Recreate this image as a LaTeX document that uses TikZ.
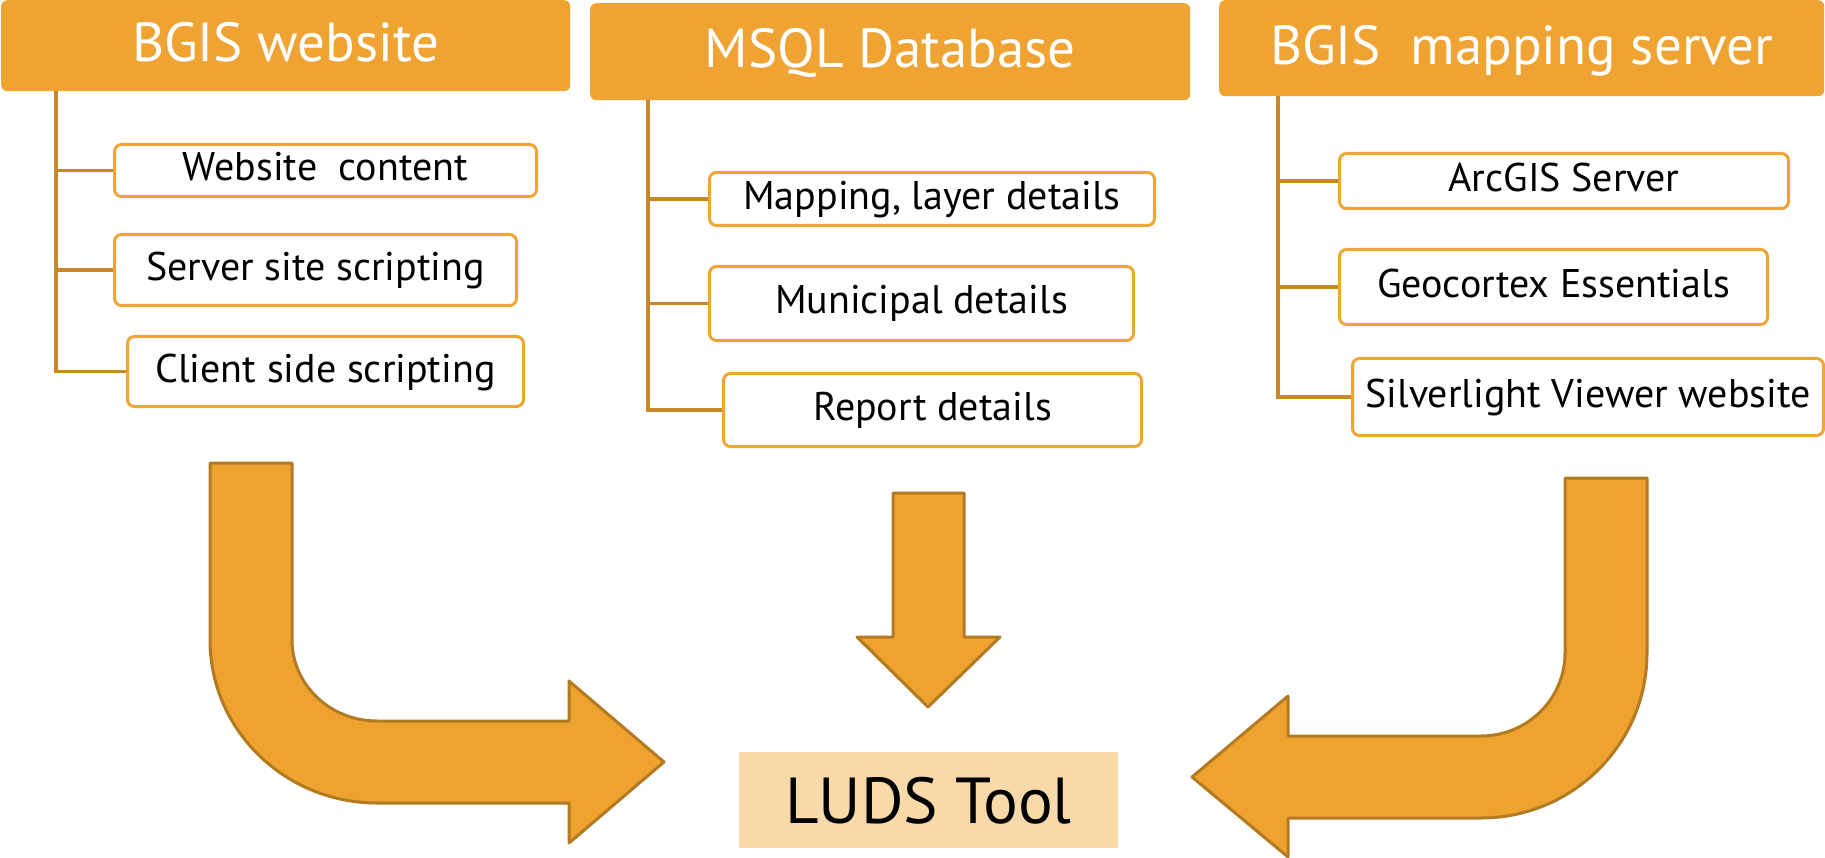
\documentclass[tikz,border=0pt]{standalone}
\usepackage{fontspec}
\setmainfont{PT Sans}
\definecolor{hdr}{HTML}{EFA332}
\definecolor{itemline}{HTML}{EFA534}
\definecolor{conn}{HTML}{C78628}
\definecolor{arrowfill}{HTML}{EEA22F}
\definecolor{arrowline}{HTML}{B47A22}
\definecolor{ludsfill}{HTML}{F8DAAA}
\tikzset{
  hdrbox/.style={fill=hdr, rounded corners=6pt, inner sep=0pt, anchor=north west,
    text=white, font=\fontsize{55}{60}\selectfont, text height=38pt, text depth=6pt},
  itembox/.style={draw=itemline, line width=3pt, rounded corners=7pt, fill=white,
    inner sep=0pt, anchor=north west, text=black,
    font=\fontsize{40}{46}\selectfont, text height=28pt, text depth=7pt},
  conn/.style={draw=conn, line width=3.5pt},
  bigarrow/.style={fill=arrowfill, draw=arrowline, line width=3pt, line join=round},
  ludsbox/.style={fill=ludsfill, inner sep=0pt, font=\fontsize{65}{70}\selectfont,
    text height=47pt, text depth=1pt}
}
\begin{document}
\begin{tikzpicture}[x=1pt, y=-1pt]
\useasboundingbox (0,0) rectangle (1825,858);

% headers
\node[hdrbox, minimum width=569pt, minimum height=91pt] (h1) at (1,0) {BGIS website};
\node[hdrbox, minimum width=600pt, minimum height=97pt] (h2) at (590,3) {MSQL Database};
\node[hdrbox, minimum width=605pt, minimum height=96pt] (h3) at (1219,0) {BGIS\ \ mapping server};

% column 1 items
\node[itembox, minimum width=422pt, minimum height=52pt] (a1) at (113,143) {Website\ \ content};
\node[itembox, minimum width=402pt, minimum height=71pt] (a2) at (113,233) {Server site scripting};
\node[itembox, minimum width=396pt, minimum height=70pt] (a3) at (126,335) {Client side scripting};

% column 2 items
\node[itembox, minimum width=445pt, minimum height=53pt] (b1) at (708,171) {Mapping, layer details};
\node[itembox, minimum width=424pt, minimum height=74pt] (b2) at (708,265) {Municipal details};
\node[itembox, minimum width=418pt, minimum height=73pt] (b3) at (722,372) {Report details};

% column 3 items
\node[itembox, minimum width=449pt, minimum height=55pt] (c1) at (1338,152) {ArcGIS Server};
\node[itembox, minimum width=428pt, minimum height=75pt] (c2) at (1338,248) {Geocortex Essentials};
\node[itembox, minimum width=471pt, minimum height=77pt] (c3) at (1351,357) {Silverlight Viewer website};

% tree connectors
\coordinate (t1) at (56,91);
\coordinate (t2) at (648,100);
\coordinate (t3) at (1278,96);
\draw[conn] (t1) |- (a3.west);
\draw[conn] (t1 |- a1.west) -- (a1.west);
\draw[conn] (t1 |- a2.west) -- (a2.west);
\draw[conn] (t2) |- (b3.west);
\draw[conn] (t2 |- b1.west) -- (b1.west);
\draw[conn] (t2 |- b2.west) -- (b2.west);
\draw[conn] (t3) |- (c3.west);
\draw[conn] (t3 |- c1.west) -- (c1.west);
\draw[conn] (t3 |- c2.west) -- (c2.west);

% LUDS tool
\node[ludsbox, minimum width=379pt, minimum height=96pt] (luds) at (928.5,800) {LUDS Tool};

% left bent arrow
\draw[bigarrow] (210,463) -- (292,463) -- (292,640)
  .. controls (292,684.7) and (330.1,721) .. (377,721)
  -- (569,721) -- (569,681) -- (664,762) -- (569,843) -- (569,803) -- (377,803)
  .. controls (284.8,803) and (210,730) .. (210,640) -- cycle;

% middle arrow
\draw[bigarrow] (893,493) -- (964,493) -- (964,637) -- (1000,637) -- (928,707)
  -- (857,637) -- (893,637) -- cycle;

% right bent arrow
\draw[bigarrow] (1565,478) -- (1647,478) -- (1647,653)
  .. controls (1647,744) and (1572.7,818) .. (1481,818)
  -- (1288,818) -- (1288,857) -- (1192,777) -- (1288,696) -- (1288,736) -- (1481,736)
  .. controls (1527.4,736) and (1565,698.8) .. (1565,653) -- cycle;
\end{tikzpicture}
\end{document}
